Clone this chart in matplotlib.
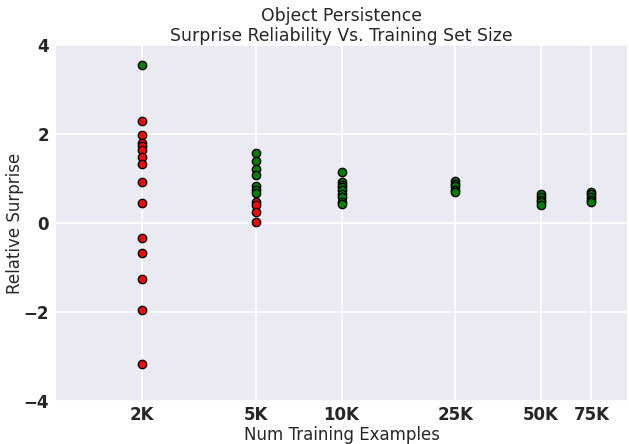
import matplotlib
matplotlib.use("Agg")
import matplotlib.pyplot as plt
import numpy as np

sizes = [2000, 5000, 10000, 25000, 50000, 75000]
tick_labels = ["2K", "5K", "10K", "25K", "50K", "75K"]

green_2k = [3.54]
red_2k = [2.28, 1.97, 1.80, 1.72, 1.63, 1.48, 1.33, 0.91, 0.44, -0.35, -0.68, -1.26, -1.96, -3.16]
green_5k = [1.57, 1.39, 1.21, 1.08, 0.82, 0.74, 0.68]
red_5k = [0.46, 0.40, 0.25, 0.01]
green_10k = [1.14, 0.91, 0.85, 0.80, 0.74, 0.66, 0.58, 0.48, 0.42]
green_25k = [0.95, 0.88, 0.82, 0.75, 0.70]
green_50k = [0.66, 0.58, 0.52, 0.46, 0.40]
green_75k = [0.70, 0.64, 0.58, 0.52, 0.47]

green_sets = [green_2k, green_5k, green_10k, green_25k, green_50k, green_75k]
red_sets = [red_2k, red_5k, [], [], [], []]

fig = plt.figure(figsize=(6.29, 4.44), dpi=100)
ax = fig.add_axes([0.089, 0.097, 0.908, 0.802])
ax.set_facecolor("#EAEAF2")
for s in ax.spines.values():
    s.set_visible(False)
ax.set_axisbelow(True)
ax.grid(True, color="white", linewidth=1.2)

for sz, g, r in zip(sizes, green_sets, red_sets):
    if g:
        ax.scatter([sz] * len(g), g, s=36, c="green", edgecolors="black", linewidths=1, zorder=3)
    if r:
        ax.scatter([sz] * len(r), r, s=36, c="red", edgecolors="black", linewidths=1, zorder=3)

ax.set_xscale("log")
ax.set_xlim(1000, 100000)
ax.set_xticks(sizes)
ax.set_xticklabels(tick_labels)
ax.minorticks_off()
ax.set_ylim(-4, 4)
ax.set_yticks([-4, -2, 0, 2, 4])
ax.tick_params(axis="x", length=0, pad=4, labelsize=12, colors="#262626")
ax.tick_params(axis="y", length=0, pad=5, labelsize=12, colors="#262626")
for lab in ax.get_xticklabels() + ax.get_yticklabels():
    lab.set_fontweight("bold")

ax.set_xlabel("Num Training Examples", fontsize=12, color="#262626", labelpad=1)
ax.set_ylabel("Relative Surprise", fontsize=12, color="#262626", labelpad=0)
ax.set_title("Object Persistence\nSurprise Reliability Vs. Training Set Size", fontsize=12.4, color="#262626", pad=3, linespacing=1.1)

fig.savefig("out.png", dpi=100)
